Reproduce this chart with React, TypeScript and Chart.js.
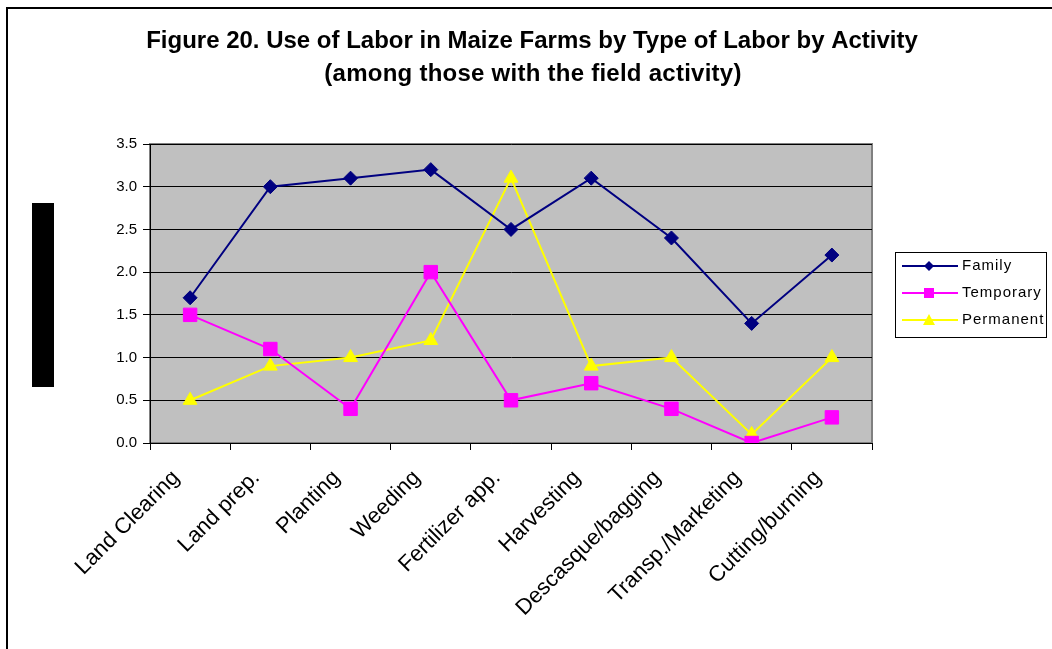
import React, { useEffect, useRef } from "react";
import { Chart, registerables } from "chart.js";

Chart.register(...registerables);

const categories = [
  "Land Clearing",
  "Land prep.",
  "Planting",
  "Weeding",
  "Fertilizer app.",
  "Harvesting",
  "Descasque/bagging",
  "Transp./Marketing",
  "Cutting/burning",
];
const family = [1.7, 3.0, 3.1, 3.2, 2.5, 3.1, 2.4, 1.4, 2.2];
const temporary = [1.5, 1.1, 0.4, 2.0, 0.5, 0.7, 0.4, 0.0, 0.3];
const permanent = [0.5, 0.9, 1.0, 1.2, 3.1, 0.9, 1.0, 0.1, 1.0];
const titleLines = [
  "Figure 20. Use of Labor in Maize Farms by Type of Labor by Activity",
  "(among those with the field activity)",
];

const FONT = "'Liberation Sans', Arial, sans-serif";

const decorPlugin = {
  id: "decor",
  beforeDraw(chart: any) {
    const { ctx, chartArea: a } = chart;
    ctx.save();
    ctx.fillStyle = "#ffffff";
    ctx.fillRect(0, 0, chart.width, chart.height);
    // outer frame
    ctx.strokeStyle = "#000000";
    ctx.lineWidth = 2;
    ctx.beginPath();
    ctx.moveTo(7, chart.height + 2);
    ctx.lineTo(7, 8);
    ctx.lineTo(chart.width + 2, 8);
    ctx.stroke();
    // black bar at left
    ctx.fillStyle = "#000000";
    ctx.fillRect(32, 203, 22, 184);
    // plot background
    ctx.fillStyle = "#C0C0C0";
    ctx.fillRect(a.left, a.top, a.right - a.left, a.bottom - a.top);
    ctx.strokeStyle = "#808080";
    ctx.lineWidth = 2;
    ctx.strokeRect(a.left, a.top, a.right - a.left, a.bottom - a.top);
    // title
    ctx.fillStyle = "#000000";
    ctx.font = `bold 24px ${FONT}`;
    ctx.textAlign = "center";
    ctx.textBaseline = "alphabetic";
    ctx.fillText(titleLines[0], 532, 48);
    try {
      ctx.letterSpacing = "0.25px";
    } catch (e) {}
    ctx.fillText(titleLines[1], 533, 81);
    ctx.restore();
  },
  afterDraw(chart: any) {
    const { ctx } = chart;
    ctx.save();
    const bx = 895, by = 252, bw = 151, bh = 85;
    ctx.fillStyle = "#ffffff";
    ctx.fillRect(bx, by, bw, bh);
    ctx.strokeStyle = "#000000";
    ctx.lineWidth = 1;
    ctx.strokeRect(bx + 0.5, by + 0.5, bw, bh);
    chart.data.datasets.forEach((ds: any, i: number) => {
      const y = 266 + i * 27;
      ctx.strokeStyle = ds.borderColor;
      ctx.lineWidth = 2;
      ctx.beginPath();
      ctx.moveTo(902, y);
      ctx.lineTo(958, y);
      ctx.stroke();
      ctx.fillStyle = ds.backgroundColor;
      const cx = 929;
      ctx.beginPath();
      if (ds.pointStyle === "rectRot") {
        ctx.moveTo(cx, y - 5);
        ctx.lineTo(cx + 5, y);
        ctx.lineTo(cx, y + 5);
        ctx.lineTo(cx - 5, y);
      } else if (ds.pointStyle === "rect") {
        ctx.rect(cx - 5, y - 5, 10, 10);
      } else {
        ctx.moveTo(cx, y - 6);
        ctx.lineTo(cx + 6, y + 5);
        ctx.lineTo(cx - 6, y + 5);
      }
      ctx.closePath();
      ctx.fill();
      ctx.fillStyle = "#000000";
      ctx.font = `15px ${FONT}`;
      try {
        ctx.letterSpacing = "1px";
      } catch (e) {}
      ctx.textAlign = "left";
      ctx.textBaseline = "middle";
      ctx.fillText(ds.label, 962, y);
    });
    ctx.restore();
  },
};

export default function App() {
  const ref = useRef<HTMLCanvasElement>(null);
  useEffect(() => {
    if (!ref.current) return;
    const chart = new Chart(ref.current, {
      type: "line",
      data: {
        labels: categories,
        datasets: [
          {
            label: "Family",
            data: family,
            borderColor: "#000080",
            backgroundColor: "#000080",
            pointStyle: "rectRot",
            pointRadius: 7,
            pointBorderWidth: 1,
            borderWidth: 2,
            tension: 0,
          },
          {
            label: "Temporary",
            data: temporary,
            borderColor: "#FF00FF",
            backgroundColor: "#FF00FF",
            pointStyle: "rect",
            pointRadius: 9.5,
            pointBorderWidth: 1,
            borderWidth: 2,
            tension: 0,
          },
          {
            label: "Permanent",
            data: permanent,
            borderColor: "#FFFF00",
            backgroundColor: "#FFFF00",
            pointStyle: "triangle",
            pointRadius: 8,
            pointBorderWidth: 1,
            borderWidth: 2,
            tension: 0,
          },
        ],
      },
      options: {
        animation: false,
        responsive: false,
        devicePixelRatio: 1,
        layout: { padding: { left: 0, right: 180, top: 144, bottom: 0 } },
        plugins: {
          legend: { display: false },
          title: { display: false },
          tooltip: { enabled: false },
        },
        scales: {
          x: {
            type: "category",
            offset: true,
            afterFit: (s: any) => {
              s.height = 206;
            },
            grid: {
              display: true,
              drawOnChartArea: false,
              drawTicks: true,
              tickLength: 7,
              color: "#000000",
              offset: true,
            },
            border: { display: true, color: "#000000", width: 1 },
            ticks: {
              autoSkip: false,
              maxRotation: 45,
              minRotation: 45,
              color: "#000000",
              font: { family: FONT, size: 22 },
              padding: 15,
              labelOffset: -14,
            },
          },
          y: {
            min: 0,
            max: 3.5,
            afterFit: (s: any) => {
              s.width = 150;
            },
            grid: {
              color: "#000000",
              lineWidth: 1,
              drawTicks: true,
              tickLength: 7,
            },
            border: { display: true, color: "#000000", width: 1 },
            ticks: {
              stepSize: 0.5,
              color: "#000000",
              font: { family: FONT, size: 15 },
              padding: 6,
              callback: (v: any) => Number(v).toFixed(1),
            },
          },
        },
      },
      plugins: [decorPlugin],
    });
    return () => chart.destroy();
  }, []);
  return (
    <div style={{ position: "fixed", left: 0, top: 0, width: 1052, height: 649 }}>
      <canvas ref={ref} width={1052} height={649} style={{ display: "block" }} />
    </div>
  );
}
